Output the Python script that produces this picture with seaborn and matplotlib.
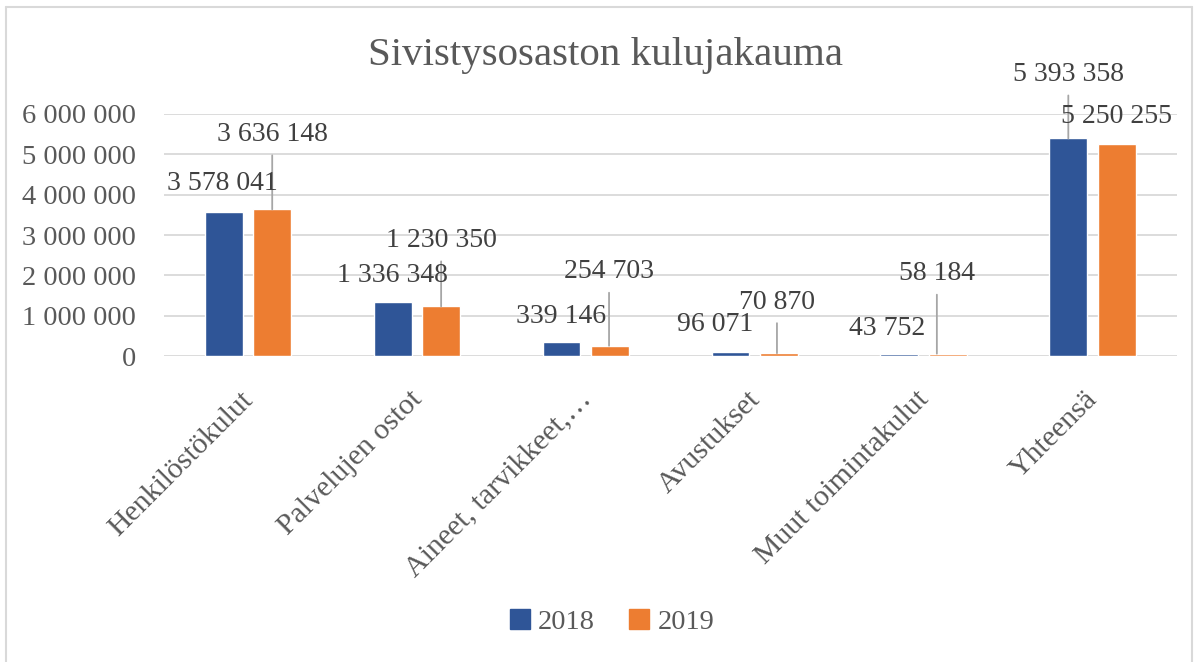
import matplotlib
matplotlib.use("Agg")
import matplotlib.pyplot as plt
import matplotlib.transforms as mtransforms
import seaborn as sns
import pandas as pd
from matplotlib.lines import Line2D
from matplotlib.patches import Patch

# data
categories = ["Henkilöstökulut", "Palvelujen ostot", "Aineet, tarvikkeet,…",
              "Avustukset", "Muut toimintakulut", "Yhteensä"]
years = ["2018", "2019"]
values_2018 = [3578041, 1336348, 339146, 96071, 43752, 5393358]
values_2019 = [3636148, 1230350, 254703, 70870, 58184, 5250255]

# label placement (pixel offsets from bar top) and whether a leader line is drawn
label_offsets_2018 = [(-1, 28), (0, 27), (0, 26), (-15, 28), (-12, 26), (0, 64)]
label_offsets_2019 = [(0, 75), (0, 66), (-1, 74), (-2, 51), (-11, 80), (0, 28)]
leader_2018 = [False, False, False, False, False, True]
leader_2019 = [True, True, True, True, True, False]

colors = {"2018": "#2F5597", "2019": "#ED7D31"}
text_col = "#404040"
tick_col = "#595959"
grid_col = "#d9d9d9"

df = pd.DataFrame({
    "Kategoria": categories * 2,
    "Vuosi": ["2018"] * len(categories) + ["2019"] * len(categories),
    "Kulut": values_2018 + values_2019,
})


def fmt(v):
    return f"{int(v):,}".replace(",", " ")


sns.set_theme(style="white")
plt.rcParams["font.family"] = ["Liberation Serif", "DejaVu Serif"]

fig = plt.figure(figsize=(11.97, 6.62), dpi=100)
ax = fig.add_axes([0.1366, 0.4622, 0.8467, 0.3656])

sns.barplot(data=df, x="Kategoria", y="Kulut", hue="Vuosi", hue_order=years,
            palette=colors, width=0.574, gap=0.22, ax=ax, legend=False,
            saturation=1, zorder=3)

ax.set_ylim(0, 6000000)
ax.set_xlim(-0.5, len(categories) - 0.5)
ax.set_yticks(range(0, 6000001, 1000000))
ax.set_yticklabels([fmt(v) for v in range(0, 6000001, 1000000)])
ax.yaxis.grid(True, color=grid_col, linewidth=1.3, zorder=0)
ax.set_axisbelow(True)
for s in ax.spines.values():
    s.set_visible(False)
ax.set_xlabel("")
ax.set_ylabel("")
ax.tick_params(axis="y", length=0, pad=20, labelsize=20.5, labelcolor=tick_col)
ax.tick_params(axis="x", length=0, pad=22, labelsize=21.5, labelcolor=tick_col)
ax.set_xticks(range(len(categories)))
ax.set_xticklabels(categories, rotation=45, ha="right", rotation_mode="anchor")
shift = mtransforms.ScaledTranslation(-8 / 100, 0, fig.dpi_scale_trans)
for lab in ax.get_xticklabels():
    lab.set_transform(lab.get_transform() + shift)

px_per_cat = 1013 / len(categories)

for cont, offs, leads in [(ax.containers[0], label_offsets_2018, leader_2018),
                          (ax.containers[1], label_offsets_2019, leader_2019)]:
    for bar, (dx, dy), lead in zip(cont.patches, offs, leads):
        xc = bar.get_x() + bar.get_width() / 2
        top = bar.get_height()
        ax.annotate(fmt(top), xy=(xc, top), xytext=(dx, dy),
                    textcoords="offset pixels", ha="center", va="center",
                    fontsize=20, color=text_col, zorder=5)
        if lead:
            xl = xc + dx / px_per_cat
            xl = min(max(xl, bar.get_x() + 0.01), bar.get_x() + bar.get_width() - 0.01)
            ax.annotate("", xy=(xl, top), xytext=(0, dy - 21),
                        textcoords="offset pixels",
                        arrowprops=dict(arrowstyle="-", color="#a6a6a6", lw=1.3,
                                        shrinkA=0, shrinkB=0), zorder=4)

fig.text(605 / 1197, 1 - 55 / 662, "Sivistysosaston kulujakauma",
         ha="center", va="center", fontsize=29.5, color=tick_col)

handles = [Patch(facecolor=colors[y], edgecolor=colors[y]) for y in years]
fig.legend(handles, years, loc="center", bbox_to_anchor=(612 / 1197, 1 - 622 / 662),
           ncol=2, frameon=False, fontsize=20.5, handlelength=0.7, handleheight=0.7,
           handletextpad=0.3, columnspacing=1.2, labelcolor=tick_col)

# chart frame
fig.add_artist(Line2D([6 / 1197, 6 / 1197], [0, 1 - 7 / 662], color=grid_col, lw=1.5))
fig.add_artist(Line2D([6 / 1197, 1192 / 1197], [1 - 7 / 662, 1 - 7 / 662], color=grid_col, lw=1.5))
fig.add_artist(Line2D([1192 / 1197, 1192 / 1197], [0, 1 - 7 / 662], color=grid_col, lw=1.5))

fig.savefig("out.png", dpi=100)
